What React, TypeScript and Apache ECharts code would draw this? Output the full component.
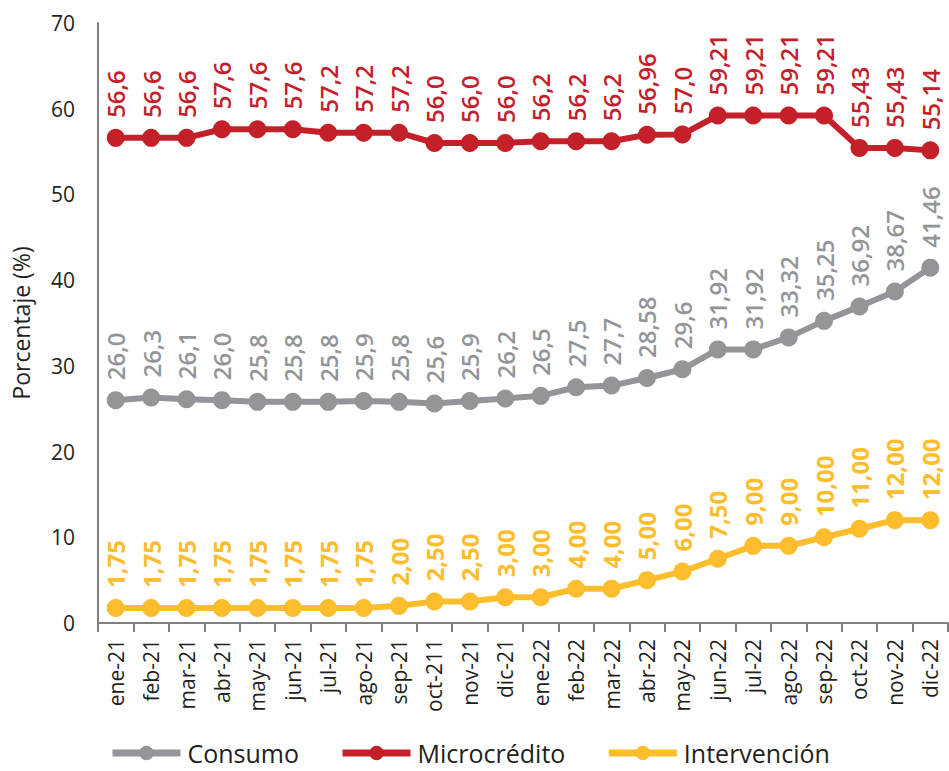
import React, { useEffect, useRef } from "react";
import * as echarts from "echarts";

const categories = [
  "ene-21", "feb-21", "mar-21", "abr-21", "may-21", "jun-21", "jul-21", "ago-21", "sep-21", "oct-211", "nov-21", "dic-21",
  "ene-22", "feb-22", "mar-22", "abr-22", "may-22", "jun-22", "jul-22", "ago-22", "sep-22", "oct-22", "nov-22", "dic-22",
];

const consumoValues = [26.0, 26.3, 26.1, 26.0, 25.8, 25.8, 25.8, 25.9, 25.8, 25.6, 25.9, 26.2, 26.5, 27.5, 27.7, 28.58, 29.6, 31.92, 31.92, 33.32, 35.25, 36.92, 38.67, 41.46];
const consumoLabels = ["26,0", "26,3", "26,1", "26,0", "25,8", "25,8", "25,8", "25,9", "25,8", "25,6", "25,9", "26,2", "26,5", "27,5", "27,7", "28,58", "29,6", "31,92", "31,92", "33,32", "35,25", "36,92", "38,67", "41,46"];

const microValues = [56.6, 56.6, 56.6, 57.6, 57.6, 57.6, 57.2, 57.2, 57.2, 56.0, 56.0, 56.0, 56.2, 56.2, 56.2, 56.96, 57.0, 59.21, 59.21, 59.21, 59.21, 55.43, 55.43, 55.14];
const microLabels = ["56,6", "56,6", "56,6", "57,6", "57,6", "57,6", "57,2", "57,2", "57,2", "56,0", "56,0", "56,0", "56,2", "56,2", "56,2", "56,96", "57,0", "59,21", "59,21", "59,21", "59,21", "55,43", "55,43", "55,14"];

const interValues = [1.75, 1.75, 1.75, 1.75, 1.75, 1.75, 1.75, 1.75, 2.0, 2.5, 2.5, 3.0, 3.0, 4.0, 4.0, 5.0, 6.0, 7.5, 9.0, 9.0, 10.0, 11.0, 12.0, 12.0];
const interLabels = ["1,75", "1,75", "1,75", "1,75", "1,75", "1,75", "1,75", "1,75", "2,00", "2,50", "2,50", "3,00", "3,00", "4,00", "4,00", "5,00", "6,00", "7,50", "9,00", "9,00", "10,00", "11,00", "12,00", "12,00"];

const yTicks = [0, 10, 20, 30, 40, 50, 60, 70];

const FONT = "'Open Sans', sans-serif";
const GRAY = "#939598";
const RED = "#c4202a";
const YELLOW = "#fdbd2c";
const TEXT = "#231f20";

function makeSeries(name: string, values: number[], labels: string[], color: string, weight: any) {
  return {
    name,
    type: "line",
    data: values,
    symbol: "circle",
    symbolSize: 18,
    itemStyle: { color },
    lineStyle: { color, width: 6 },
    label: {
      show: true,
      position: "top",
      distance: 11,
      rotate: 90,
      align: "left",
      verticalAlign: "middle",
      color,
      fontFamily: FONT,
      fontSize: 24,
      fontWeight: weight,
      formatter: (p: any) => labels[p.dataIndex],
    },
  };
}

export default function App() {
  const ref = useRef<HTMLDivElement>(null);
  useEffect(() => {
    if (!ref.current) return;
    const chart = echarts.init(ref.current, undefined, { renderer: "svg" });
    chart.setOption({
      animation: false,
      grid: { left: 98, right: 1, top: 23, bottom: 148, containLabel: false },
      legend: {
        top: 740,
        left: 109,
        itemWidth: 68,
        itemHeight: 18,
        itemGap: 40,
        padding: 0,
        lineStyle: { width: 7 },
        textStyle: { fontFamily: FONT, fontSize: 25, lineHeight: 26, color: TEXT, padding: [0, 0, 0, 2] },
        data: ["Consumo", "Microcrédito", "Intervención"],
      },
      xAxis: {
        type: "category",
        data: categories,
        boundaryGap: true,
        axisLine: { lineStyle: { color: "#7f7f82", width: 2 } },
        axisTick: { show: true, length: 9, lineStyle: { color: "#7f7f82", width: 2 } },
        axisLabel: {
          rotate: 90,
          interval: 0,
          margin: 16,
          fontFamily: FONT,
          fontSize: 21,
          color: TEXT,
        },
      },
      yAxis: {
        type: "value",
        min: 0,
        max: 70,
        interval: 10,
        name: "Porcentaje (%)",
        nameLocation: "middle",
        nameGap: 66,
        nameTextStyle: { fontFamily: FONT, fontSize: 23, color: TEXT },
        axisLine: { show: true, lineStyle: { color: "#7f7f82", width: 2 } },
        axisTick: { show: false },
        splitLine: { show: false },
        axisLabel: {
          margin: 23,
          fontFamily: FONT,
          fontSize: 21,
          color: TEXT,
          formatter: (v: number) => (yTicks.includes(v) ? String(v) : ""),
        },
      },
      series: [
        makeSeries("Consumo", consumoValues, consumoLabels, GRAY, 600),
        makeSeries("Microcrédito", microValues, microLabels, RED, 600),
        makeSeries("Intervención", interValues, interLabels, YELLOW, 700),
      ],
    });
    return () => chart.dispose();
  }, []);
  return <div ref={ref} style={{ position: "absolute", left: 0, top: 0, width: 949, height: 771 }} />;
}
